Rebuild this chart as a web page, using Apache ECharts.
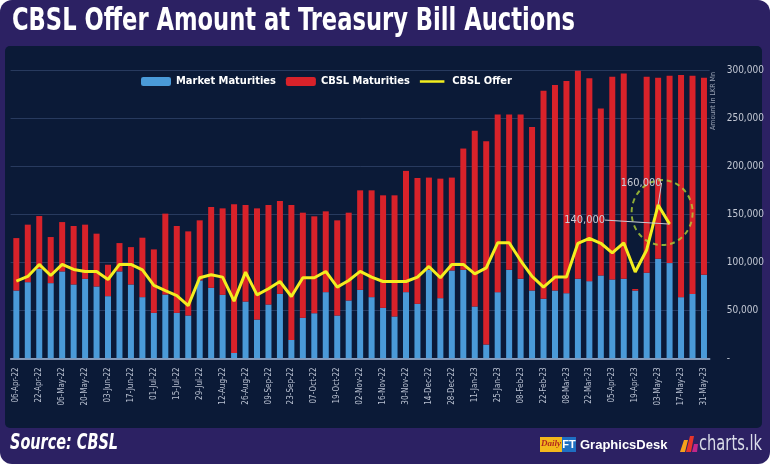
<!DOCTYPE html>
<html><head><meta charset="utf-8">
<script src="https://cdn.jsdelivr.net/npm/echarts@6/dist/echarts.min.js"></script>
<style>html,body{margin:0;padding:0;background:#fff}#c{width:770px;height:464px}</style>
</head><body><div id="c"></div>
<script>
const categories = ['06-Apr-22','13-Apr-22','22-Apr-22','29-Apr-22','06-May-22','13-May-22','20-May-22','27-May-22','03-Jun-22','10-Jun-22','17-Jun-22','24-Jun-22','01-Jul-22','08-Jul-22','15-Jul-22','22-Jul-22','29-Jul-22','05-Aug-22','12-Aug-22','19-Aug-22','26-Aug-22','02-Sep-22','09-Sep-22','16-Sep-22','23-Sep-22','30-Sep-22','07-Oct-22','12-Oct-22','19-Oct-22','26-Oct-22','02-Nov-22','09-Nov-22','16-Nov-22','23-Nov-22','30-Nov-22','07-Dec-22','14-Dec-22','21-Dec-22','28-Dec-22','04-Jan-23','11-Jan-23','18-Jan-23','25-Jan-23','01-Feb-23','08-Feb-23','15-Feb-23','22-Feb-23','01-Mar-23','08-Mar-23','15-Mar-23','22-Mar-23','29-Mar-23','05-Apr-23','12-Apr-23','19-Apr-23','26-Apr-23','03-May-23','10-May-23','17-May-23','24-May-23','31-May-23'];

const marketMaturities = [70700,79400,93400,78400,90600,77000,82900,74900,64800,90600,
  77000,63800,47400,66500,47400,44600,81200,73500,66200,5600,
  59200,40400,56100,67200,19200,42200,47000,69000,44600,60300,
  71400,63800,52600,43600,69000,56800,92300,62700,91600,92300,
  54000,14300,69000,92300,82900,70700,62000,70700,67900,82900,
  80500,86400,82200,82900,70600,89200,103800,99300,63800,67200,87100];

const cbslMaturities = [54700,60000,55000,48100,51500,61000,56500,55100,32800,29600,
  39000,62000,66200,84400,90600,87800,62700,84300,90200,155000,
  100700,116000,103800,96900,140700,109700,101100,84300,99300,91600,
  103800,111400,117400,126400,126500,131300,96200,124700,96900,126500,
  183300,212200,185300,162000,171400,170700,217100,214300,221300,217100,
  211500,174200,211500,214300,1700,204500,188800,195400,231600,227500,205500];

const cbslOffer = [80500,85400,97900,86400,97900,92700,90600,90600,82200,97900,
  97900,92300,76000,70700,65500,55000,84000,87100,84700,59600,
  89900,66200,72500,80100,64500,84000,84000,90600,74200,81200,
  90600,84700,80100,80100,80100,84700,95800,84000,97900,97900,
  88100,94400,120500,120500,102000,85400,74200,84700,84700,120000,
  125000,120000,110000,120500,90000,113000,160000,140000,null,null,null];

const annotated = [56, 57];           // indices of labelled offer points
const highlight = [[56, 152000]];     // centre of dashed circle (category index, value)

const NARROW = "'DejaVu Sans Condensed','Liberation Sans Narrow',sans-serif";
function fitScale(text, font, width){
  const ctx = document.createElement('canvas').getContext('2d');
  ctx.font = font; return width / ctx.measureText(text).width;
}
const titleText = 'CBSL Offer Amount at Treasury Bill Auctions';
const titleFont = "bold 32px " + NARROW;
const srcText = 'Source: CBSL';
const srcFont = "italic bold 21px " + NARROW;
const lkText = 'charts.lk';
const lkFont = "22px " + NARROW;
const fmt = v => v === 0 ? '-' : Number(v).toLocaleString('en-US');

const offerData = cbslOffer.map((v, i) => annotated.includes(i)
  ? {value: v, symbol: 'circle', symbolSize: 1, label: {show: true}, labelLine: {show: true}} : v);

const chart = echarts.init(document.getElementById('c'));
chart.setOption({
  backgroundColor: '#ffffff',
  animation: false,
  textStyle: {fontFamily: NARROW},
  grid: {left: 10.6, right: 60.3, top: 70.7, bottom: 105.7, outerBoundsMode: 'none'},
  legend: {
    data: ['Market Maturities', 'CBSL Maturities',
      {name: 'CBSL Offer', icon: 'path://M0,0L0.01,0M0,4L30,4L30,7L0,7ZM0,11L0.01,11'}],
    left: 136, top: 71, itemWidth: 30, itemHeight: 9, itemGap: 10,
    textStyle: {color: '#ffffff', fontSize: 11, fontWeight: 'bold', fontFamily: NARROW}
  },
  xAxis: {
    type: 'category', data: categories, boundaryGap: true,
    axisTick: {show: false},
    axisLine: {lineStyle: {color: '#a9bddb', width: 1.5}},
    axisLabel: {interval: 1, rotate: 90, fontSize: 8, color: '#b9c1d1', margin: 9, fontFamily: NARROW}
  },
  yAxis: {
    type: 'value', position: 'right', min: 0, max: 300000, interval: 50000,
    axisLine: {show: false}, axisTick: {show: false},
    splitLine: {lineStyle: {color: '#283a5e', width: 1}},
    axisLabel: {formatter: fmt, color: '#c3c8d4', fontSize: 10, margin: 17, fontFamily: NARROW}
  },
  series: [
    {name: 'Market Maturities', type: 'bar', stack: 'm', data: marketMaturities, barWidth: 6,
     itemStyle: {color: '#4a9ad8'}},
    {name: 'CBSL Maturities', type: 'bar', stack: 'm', data: cbslMaturities, barWidth: 6,
     itemStyle: {color: '#d8222a'}},
    {name: 'highlight', type: 'scatter', data: highlight, symbol: 'circle',
     symbolSize: [61, 65], symbolOffset: [4, 0], silent: true, z: 3,
     itemStyle: {color: 'rgba(0,0,0,0)', borderColor: '#b0d236', borderWidth: 2, borderType: [5, 4]}},
    {name: 'CBSL Offer', type: 'line', data: offerData, symbol: 'none', z: 4,
     lineStyle: {color: '#f3ee1f', width: 3}, itemStyle: {color: '#f3ee1f'},
     label: {show: false, position: 'top', formatter: p => fmt(p.value), color: '#c9ccd6',
             fontSize: 11, fontFamily: NARROW},
     labelLine: {show: false, lineStyle: {color: '#c9ccd6', width: 1}},
     labelLayout: function (p) {
       if (p.dataIndex === 56) return {dx: -17, dy: -11};
       if (p.dataIndex === 57) return {dx: -85, dy: 7};
       return {};
     }}
  ],
  graphic: [
    {type: 'rect', z: -10, silent: true, shape: {x: 0, y: 0, width: 770, height: 464, r: 12},
     style: {fill: '#2c2163'}},
    {type: 'rect', z: -9, silent: true, shape: {x: 5, y: 46, width: 757, height: 382, r: 5},
     style: {fill: '#0b1a37'}},
    {type: 'text', z: 10, x: 12, y: 22, scaleX: fitScale(titleText, titleFont, 563),
     style: {text: titleText, font: titleFont, fill: '#ffffff', verticalAlign: 'middle'}},
    {type: 'text', z: 10, x: 713, y: 101, rotation: Math.PI / 2,
     style: {text: 'Amount in LKR Mn', font: "7px " + NARROW, fill: '#9aa3b5', align: 'center', verticalAlign: 'middle'}},
    {type: 'text', z: 10, x: 10, y: 444, scaleX: fitScale(srcText, srcFont, 108),
     style: {text: srcText, font: srcFont, fill: '#ffffff', verticalAlign: 'middle'}},
    {type: 'rect', z: 10, shape: {x: 540, y: 437, width: 22, height: 15}, style: {fill: '#f3b81c'}},
    {type: 'text', z: 11, x: 551, y: 444,
     style: {text: 'Daily', font: "italic bold 9px 'Liberation Serif',serif", fill: '#b3261e', align: 'center', verticalAlign: 'middle'}},
    {type: 'rect', z: 10, shape: {x: 562, y: 437, width: 14, height: 15}, style: {fill: '#1f6fc2'}},
    {type: 'text', z: 11, x: 569, y: 445,
     style: {text: 'FT', font: "bold 11px 'Liberation Sans',sans-serif", fill: '#ffffff', align: 'center', verticalAlign: 'middle'}},
    {type: 'text', z: 10, x: 580, y: 445,
     style: {text: 'GraphicsDesk', font: "bold 13px 'Liberation Sans',sans-serif", fill: '#ffffff', verticalAlign: 'middle'}},
    {type: 'polygon', z: 10, shape: {points: [[680, 452], [684, 440], [688, 440], [685, 452]]}, style: {fill: '#f6a21a'}},
    {type: 'polygon', z: 10, shape: {points: [[686, 452], [690, 436], [694, 436], [691, 452]]}, style: {fill: '#e8352b'}},
    {type: 'polygon', z: 10, shape: {points: [[692, 452], [694, 444], [698, 444], [697, 452]]}, style: {fill: '#c2268a'}},
    {type: 'text', z: 10, x: 699, y: 444, scaleX: fitScale(lkText, lkFont, 63),
     style: {text: lkText, font: lkFont, fill: '#d9dbe8', verticalAlign: 'middle'}}
  ]
});
</script></body></html>
